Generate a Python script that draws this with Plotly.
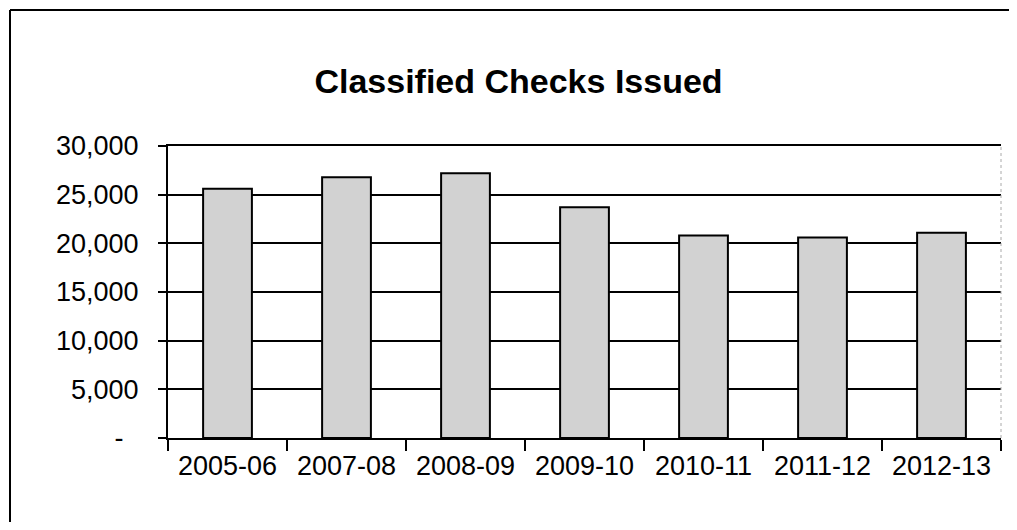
import plotly.graph_objects as go

categories = ["2005-06", "2007-08", "2008-09", "2009-10", "2010-11", "2011-12", "2012-13"]
checks_issued = [25600, 26800, 27200, 23700, 20800, 20600, 21100]
y_tick_values = [0, 5000, 10000, 15000, 20000, 25000, 30000]
y_tick_labels = ["-\u00a0\u00a0", "5,000", "10,000", "15,000", "20,000", "25,000", "30,000"]
title_text = "Classified Checks Issued"

# page body has an 8px margin on every side; keep the page inside the window
OFF = 8
W, H = 1017 - 2 * OFF, 530 - 2 * OFF
L, T = 168 - OFF, 146 - OFF
R = W - (1001 - OFF)
B = H - (438 - OFF)
pw, ph = W - L - R, H - T - B

def px(x):
    return (x - OFF - L) / pw

def py(y):
    return (H - B - (y - OFF)) / ph

font = "Arial, Liberation Sans, sans-serif"

fig = go.Figure(
    go.Bar(
        x=categories,
        y=checks_issued,
        width=0.41,
        marker=dict(color="#d2d2d2", line=dict(color="black", width=2)),
    )
)

frame = dict(color="black", width=2)

fig.update_layout(
    width=W,
    height=H,
    margin=dict(l=L, r=R, t=T, b=B, pad=0),
    paper_bgcolor="white",
    plot_bgcolor="white",
    showlegend=False,
    font=dict(family=font, color="black", size=27),
    title=dict(
        text="<b>" + title_text + "</b>",
        x=px(518.5),
        xref="paper",
        xanchor="center",
        y=1 - (81 - OFF) / H,
        yref="container",
        yanchor="middle",
        font=dict(family=font, size=34, color="black"),
    ),
    xaxis=dict(
        type="category",
        showline=True,
        mirror=True,
        linecolor="black",
        linewidth=2,
        ticks="outside",
        tickson="boundaries",
        ticklen=11,
        tickwidth=2,
        tickcolor="black",
        showgrid=False,
        tickfont=dict(size=27),
        ticklabelstandoff=3,
    ),
    yaxis=dict(
        range=[0, 30000],
        tickvals=y_tick_values,
        ticktext=y_tick_labels,
        showline=True,
        linecolor="black",
        linewidth=2,
        ticks="outside",
        ticklen=8,
        tickwidth=2,
        tickcolor="black",
        showgrid=True,
        gridcolor="black",
        gridwidth=2,
        zeroline=False,
        tickfont=dict(size=27),
        ticklabelstandoff=14,
    ),
    shapes=[
        dict(type="line", xref="paper", yref="paper",
             x0=px(10), x1=px(1060), y0=py(10), y1=py(10), line=frame, layer="below"),
        dict(type="line", xref="paper", yref="paper",
             x0=px(10), x1=px(10), y0=py(10), y1=py(560), line=frame, layer="below"),
        dict(
            type="line",
            xref="paper",
            yref="paper",
            x0=1,
            x1=1,
            y0=0,
            y1=1,
            line=dict(color="#aaaaaa", width=1, dash="dot"),
        ),
    ],
)

fig.write_html("out.html")
